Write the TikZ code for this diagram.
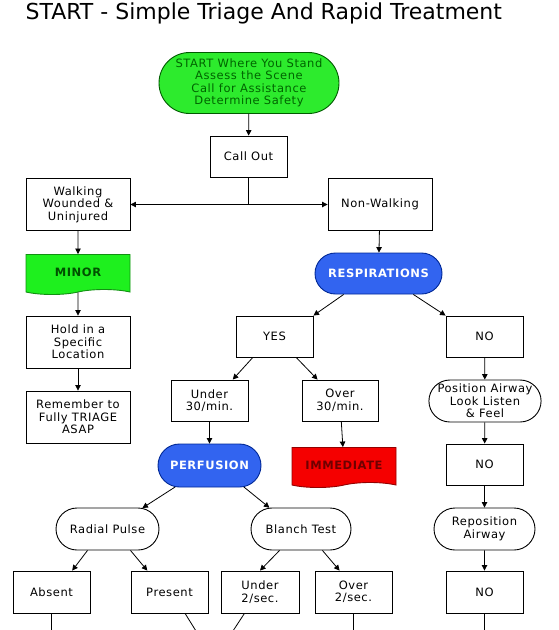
\documentclass[tikz,border=0pt]{standalone}
\usepackage{fontspec}
\setmainfont{DejaVu Sans}
\newfontfamily\boxfont{DejaVu Sans}[LetterSpace=5]
\usetikzlibrary{arrows.meta,shapes.misc,shapes.symbols}
\definecolor{startgreen}{RGB}{45,235,45}
\definecolor{startline}{RGB}{0,90,0}
\definecolor{starttext}{RGB}{0,100,0}
\definecolor{minorgreen}{RGB}{30,240,30}
\definecolor{minortext}{RGB}{0,80,0}
\definecolor{respblue}{RGB}{50,100,240}
\definecolor{respline}{RGB}{0,40,150}
\definecolor{immred}{RGB}{245,0,0}
\definecolor{immtext}{RGB}{110,0,0}
\begin{document}
\begin{tikzpicture}[x=1pt,y=-1pt,
  bx/.style={draw,rectangle,line width=0.9pt,minimum width=77pt,minimum height=41pt,inner sep=1pt,align=center,font=\boxfont\fontsize{11.5}{12.5}\selectfont},
  wbx/.style={bx,minimum width=104pt,minimum height=52pt},
  rbx/.style={bx,rounded rectangle,rounded rectangle arc length=180,minimum width=104pt,minimum height=42pt},
  docbox/.style={bx,tape,tape bend top=none,minimum width=104pt,minimum height=40pt,font=\boxfont\bfseries\fontsize{11.5}{12.5}\selectfont},
  arr/.style={-{Triangle[length=5.5pt,width=5.5pt]},line width=0.8pt}]
\useasboundingbox (0,0) rectangle (558,630);
\node[anchor=base west,font=\fontsize{22}{24}\selectfont] (title) at (22,19) {START - Simple Triage And Rapid Treatment};

% top part
\node[rbx,fill=startgreen,draw=startline,text=starttext,minimum width=180pt,minimum height=61pt,inner xsep=0pt] (start) at (249,83) {START Where You Stand\\Assess the Scene\\Call for Assistance\\Determine Safety};
\node[bx] (callout) at (248.5,156.5) {Call Out};
\coordinate (split) at (248.5,204.5);
\node[wbx] (walk) at (78,204.5) {Walking\\Wounded \&\\Uninjured};
\node[wbx] (nonwalk) at (380,204.5) {Non-Walking};
\draw[arr] (start) -- (callout);
\draw[line width=0.8pt] (callout) -- (split);
\draw[arr] (split) -- (walk);
\draw[arr] (split) -- (nonwalk);

% walking column
\node[docbox,fill=minorgreen,draw=minorgreen!60!black,text=minortext] (minor) at (78,272) {MINOR};
\node[wbx] (hold) at (78,342) {Hold in a\\Specific\\Location};
\node[wbx] (remember) at (78,417) {Remember to\\Fully TRIAGE\\ASAP};
\draw[arr] (walk) -- (minor);
\draw[arr] (minor) -- (hold);
\draw[arr] (hold) -- (remember);

% respirations
\node[rbx,fill=respblue,draw=respline,text=white,font=\boxfont\bfseries\fontsize{11.5}{12.5}\selectfont,minimum width=129pt,minimum height=41pt] (resp) at (378.5,273.5) {RESPIRATIONS};
\node[bx] (yes) at (274.5,336.5) {YES};
\node[bx] (no1) at (484.5,336.5) {NO};
\draw[arr] (nonwalk) -- (resp);
\draw[arr] (resp.211) -- (yes.north east);
\draw[arr] (resp.329) -- (no1.north west);

\node[bx] (under30) at (209.5,400.5) {Under\\30/min.};
\node[bx,minimum width=76pt] (over30) at (340,400.5) {Over\\30/min.};
\draw[arr] (yes.224) -- (under30.42);
\draw[arr] (yes.316) -- (over30.137);

\node[rbx,fill=respblue,draw=respline,text=white,font=\boxfont\bfseries\fontsize{11.5}{12.5}\selectfont,minimum width=105pt,minimum height=43pt] (perf) at (209.5,465.5) {PERFUSION};
\node[docbox,fill=immred,draw=immred!60!black,text=immtext] (immed) at (344,465) {IMMEDIATE};
\draw[arr] (under30) -- (perf);
\draw[arr] (over30) -- (immed);

% airway column
\node[rbx,minimum width=110pt,inner xsep=0pt] (posair) at (485,401) {Position Airway\\Look Listen\\\& Feel};
\node[bx] (no2) at (484.5,464.5) {NO};
\node[rbx,minimum width=103pt] (repos) at (484.5,529) {Reposition\\Airway};
\node[bx,minimum height=42pt] (no3) at (484.5,592) {NO};
\draw[arr] (no1) -- (posair);
\draw[arr] (posair) -- (no2);
\draw[arr] (no2) -- (repos);
\draw[arr] (repos) -- (no3);

% perfusion
\node[rbx,minimum width=105pt] (radial) at (107.5,529) {Radial Pulse};
\node[rbx,minimum width=102pt] (blanch) at (301,529) {Blanch Test};
\draw[arr] (perf.212) -- (radial.31);
\draw[arr] (perf.328) -- (blanch.146);

\node[bx,minimum height=42pt] (absent) at (51.5,592) {Absent};
\node[bx,minimum height=42pt] (present) at (169.5,592) {Present};
\node[bx,minimum height=42pt,minimum width=78pt] (under2) at (260,592) {Under\\2/sec.};
\node[bx,minimum height=42pt] (over2) at (353.5,592) {Over\\2/sec.};
\draw[arr] (radial.227) -- (absent.46);
\draw[arr] (radial.317) -- (present.136);
\draw[arr] (blanch.225) -- (under2.north);
\draw[arr] (blanch.315) -- (over2.123);

% lines leaving the page
\coordinate (absentend) at (51.5,645);
\coordinate (meet) at (214,660);
\coordinate (over2end) at (353.5,645);
\coordinate (no3end) at (484.5,645);
\draw[line width=0.8pt] (absent) -- (absentend);
\draw[line width=0.8pt] (present.306) -- (meet);
\draw[line width=0.8pt] (under2.234) -- (meet);
\draw[line width=0.8pt] (over2) -- (over2end);
\draw[line width=0.8pt] (no3) -- (no3end);
\end{tikzpicture}
\end{document}
